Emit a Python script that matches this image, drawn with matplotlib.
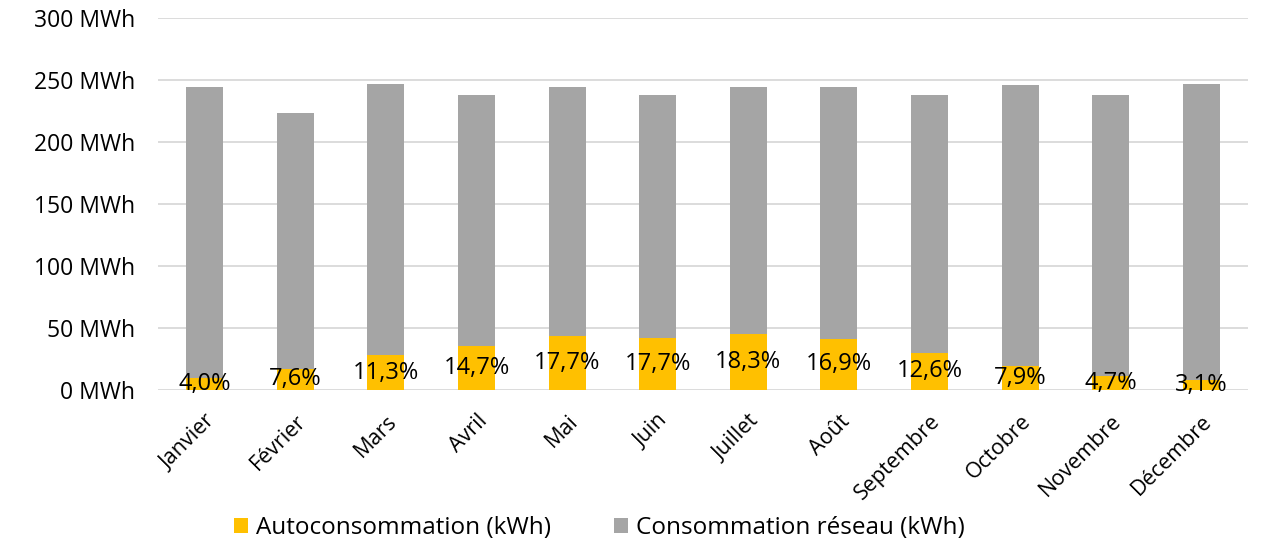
import numpy as np
import matplotlib.pyplot as plt

plt.rcParams['font.family'] = ['Open Sans', 'DejaVu Sans']

mois = ["Janvier", "Février", "Mars", "Avril", "Mai", "Juin", "Juillet",
        "Août", "Septembre", "Octobre", "Novembre", "Décembre"]
# consommation totale par mois (MWh)
total = [244.5, 223.0, 246.5, 238.0, 244.5, 238.0, 244.5, 244.5, 238.0, 245.5, 238.0, 246.5]
# taux d'autoconsommation (%)
taux = [4.0, 7.6, 11.3, 14.7, 17.7, 17.7, 18.3, 16.9, 12.6, 7.9, 4.7, 3.1]

total = np.array(total)
auto = total * np.array(taux) / 100
reseau = total - auto

jaune = "#FFC000"
gris = "#A5A5A5"

fig = plt.figure(figsize=(12.61, 5.43), dpi=100)
ax = fig.add_axes([0.125, 0.282, 0.865, 0.685])

x = np.arange(len(mois))
ax.bar(x, auto, width=0.41, color=jaune, label="Autoconsommation (kWh)", zorder=3)
ax.bar(x, reseau, width=0.41, bottom=auto, color=gris,
       label="Consommation réseau (kWh)", zorder=3)

for xi, a, t in zip(x, auto, taux):
    ax.text(xi, a / 2, f"{t:.1f}".replace(".", ",") + "%", ha="center", va="center",
            fontsize=17, color="black", zorder=4)

ax.set_xlim(-0.52, len(mois) - 0.48)
ax.set_ylim(0, 300)
ax.set_yticks(np.arange(0, 301, 50))
ax.set_yticklabels([f"{v} MWh" for v in range(0, 301, 50)], fontsize=16.5)
ax.set_xticks(x)
ax.set_xticklabels(mois, rotation=45, ha="right", rotation_mode="anchor", fontsize=15.5)
ax.tick_params(axis="both", length=0)
ax.tick_params(axis="x", pad=15)
ax.tick_params(axis="y", pad=16)
ax.grid(axis="y", color="#D9D9D9", linewidth=1.3, zorder=0)
for s in ax.spines.values():
    s.set_visible(False)

fig.legend(loc="lower center", bbox_to_anchor=(0.475, -0.035), ncol=2, frameon=False,
           fontsize=17.5, handlelength=0.6, handleheight=0.6, handletextpad=0.3,
           columnspacing=2.6)

fig.savefig("out.png", dpi=100)
